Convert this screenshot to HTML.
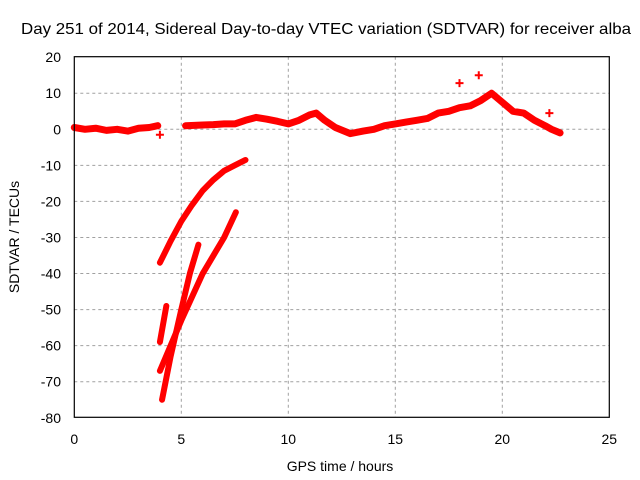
<!DOCTYPE html>
<html><head><meta charset="utf-8"><style>
body{margin:0;background:#fff}
svg{display:block;font-family:"Liberation Sans",sans-serif;font-size:14px}
</style></head><body>
<svg id="chart" width="640" height="480">
<text x="326" y="34" text-anchor="middle" textLength="610" lengthAdjust="spacingAndGlyphs" style="font-size:16px">Day 251 of 2014, Sidereal Day-to-day VTEC variation (SDTVAR) for receiver alba</text>
<g id="grid"></g>
<g id="axes"></g>
<g id="series"></g>
<rect x="74.3" y="56.7" width="535" height="360.6" fill="none" stroke="#000" stroke-width="1.2"/>
<text x="340" y="471" text-anchor="middle">GPS time / hours</text>
<text transform="translate(19,237) rotate(-90)" text-anchor="middle">SDTVAR / TECUs</text>
</svg>
<script>
const xTicks=[0,5,10,15,20,25];
const yTicks=[20,10,0,-10,-20,-30,-40,-50,-60,-70,-80];
const segAx=[0,0.5,1,1.5,2,2.5,3,3.5,3.9];
const segAy=[0.5,0,0.3,-0.3,0,-0.5,0.3,0.5,1];
const segBx=[5.2,6,6.5,7,7.5,8,8.5,9,9.5,10,10.5,11,11.3,11.7,12.2,12.9,13.5,14,14.5,15,15.5,16,16.5,17,17.5,18,18.5,19,19.5,20,20.5,21,21.5,22,22.3,22.7];
const segBy=[1,1.2,1.3,1.5,1.5,2.5,3.3,2.8,2.2,1.5,2.5,4,4.5,2.5,0.5,-1.2,-0.5,0,1,1.5,2,2.5,3,4.5,5,6,6.5,8,10,7.5,5,4.5,2.5,1,0,-1];
const seg1x=[4,4.5,5,5.5,6,6.5,7,7.5,8];
const seg1y=[-37,-31,-25.5,-21,-17,-14,-11.5,-10,-8.5];
const seg2x=[4.1,4.5,5,5.4,5.8];
const seg2y=[-75,-63,-50,-40,-32];
const seg3x=[4,5,6,7,7.55];
const seg3y=[-67,-53,-40,-30,-23];
const seg4x=[4,4.3];
const seg4y=[-59,-49];
const outX=[18,18.9,22.2,4];
const outY=[12.8,15,4.5,-1.5];

const NS="http://www.w3.org/2000/svg";
const X=v=>74.3+v*21.4;
const Y=v=>129.3-v*3.606;
function mk(tag,attrs,parent){const e=document.createElementNS(NS,tag);for(const k in attrs)e.setAttribute(k,attrs[k]);parent.appendChild(e);return e;}
const grid=document.getElementById('grid'),axes=document.getElementById('axes'),ser=document.getElementById('series');
xTicks.forEach(t=>{
 if(t>0&&t<25){const l=mk('line',{x1:X(t),x2:X(t),y1:56.7,y2:417.3,stroke:'#a0a0a0','stroke-dasharray':'3,3'},grid);
 
 }
 const tx=mk('text',{x:X(t),y:444,'text-anchor':'middle'},axes);tx.textContent=t;
 
 
});
yTicks.forEach(t=>{
 if(t<20&&t>-80){const l=mk('line',{x1:74.3,x2:609.3,y1:Y(t),y2:Y(t),stroke:'#a0a0a0','stroke-dasharray':'3,3'},grid);
 
 }
 const tx=mk('text',{x:61,y:Y(t)+5,'text-anchor':'end'},axes);tx.textContent=t;
 
 
});
function seg(xs,ys,w,name){
 const p=mk('polyline',{points:xs.map((x,i)=>X(x)+','+Y(ys[i])).join(' '),fill:'none',stroke:'#f00','stroke-width':w,'stroke-linejoin':'round','stroke-linecap':'round'},ser);
 
 
}
seg(segAx,segAy,7,'series-segment-a');
seg(segBx,segBy,7,'series-segment-b');
seg(seg1x,seg1y,6,'series-arc-1');
seg(seg2x,seg2y,6,'series-arc-2');
seg(seg3x,seg3y,6,'series-arc-3');
seg(seg4x,seg4y,6,'series-arc-4');
outX.forEach((x,i)=>{
 const p=mk('path',{d:`M${X(x)-4},${Y(outY[i])}h8M${X(x)},${Y(outY[i])-4}v8`,stroke:'#f00','stroke-width':2},ser);
 
 
});
</script>
</body></html>
